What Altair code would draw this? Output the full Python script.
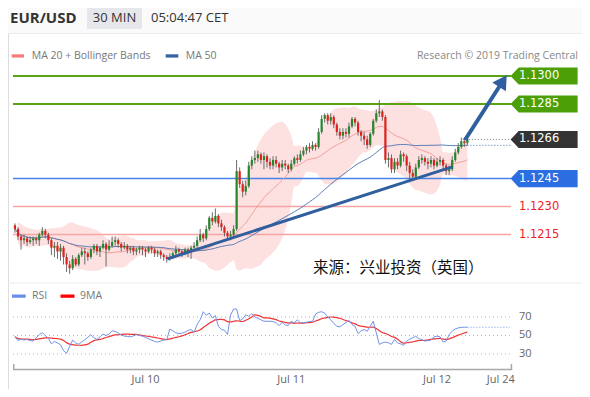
import altair as alt
import pandas as pd

# ---------------- data (pips above 1.1200, 30-min bars) ----------------
close_pips = [18,14,12,13,11,12,13,12,15,17,
              15,12,8,9,6,8,3,-1,-3,2,
              -1,4,6,5,3,7,9,6,8,10,
              7,9,11,12,10,8,9,7,8,6,
              7,8,7,6,8,7,5,6,4,3,
              2,3,5,7,6,5,7,6,8,9,
              12,15,13,18,24,22,25,21,19,16,
              14,15,18,49,42,38,41,52,55,56,
              58,55,57,54,52,55,53,51,53,52,
              50,53,56,55,58,60,62,61,63,62,
              70,77,79,76,78,74,70,68,70,69,
              73,77,75,70,68,66,63,69,76,80,
              81,78,55,56,50,54,52,58,57,52,
              48,46,51,55,56,54,53,55,52,54,
              55,52,49,50,55,59,62,65,64,66]
high_pips = [21,19,15,15,14,14,14,14,16,19,
             18,16,13,11,11,10,9,5,1,4,
             3,5,8,8,6,8,10,10,9,12,
             11,12,14,14,13,11,11,10,9,9,
             8,9,9,8,9,9,8,7,7,5,
             4,5,6,9,8,7,8,8,9,11,
             14,18,16,20,25,27,29,26,23,20,
             17,17,20,55,51,44,44,54,57,60,
             60,59,59,58,56,57,57,54,55,55,
             53,55,57,58,60,62,63,64,65,64,
             72,79,80,80,80,79,75,72,72,72,
             75,78,78,76,71,70,68,70,77,82,
             87,82,79,59,58,56,56,60,59,58,
             54,50,53,57,58,57,56,57,56,56,
             57,56,53,52,57,61,64,67,67,67]
low_pips = [16,12,7,10,9,10,9,10,9,14,
            13,10,4,3,2,1,-1,-5,-6,-4,
            -2,-2,3,-1,1,2,5,4,3,7,
            -2,6,8,9,8,6,7,5,5,4,
            4,5,4,3,5,5,3,3,2,1,
            0,1,2,4,4,3,4,3,2,6,
            8,11,11,12,17,20,21,19,17,14,
            12,12,14,17,40,35,36,40,50,53,
            54,53,50,51,50,50,51,48,49,50,
            48,49,52,53,54,57,58,59,60,60,
            61,69,75,74,74,72,68,66,66,67,
            67,72,73,68,65,63,61,62,68,75,
            78,76,53,51,48,48,50,51,54,49,
            44,44,45,50,53,52,50,51,50,51,
            52,50,47,47,49,54,58,61,62,63]
first_open_pips = 20

rsi_values = [48.6,44.5,46,45.2,45.7,44.5,44,47.5,51,52.9,
              50,47,41,43.5,42,40,33.5,30.7,38,45,
              42,40.5,43,45.5,48,51,47.5,45.7,48.5,51.5,
              50,51.5,55,54.5,52.9,50.5,49.3,49,48.6,49.5,
              51,50,49.3,48,46.4,45,43.5,42.9,44,45,
              45.7,57,55,52.9,52,52.5,53.6,55.5,56.4,53.6,
              62,67,75.7,72,74.3,69,71.4,60,56.4,55.7,
              51,72,78.6,78.6,66,67.9,72.5,70.7,73.6,70,
              68.5,67,65.4,65.4,65.4,65,63.6,60.7,64.3,61.5,
              60.7,65.4,63.6,67,63.6,64,64.3,65,65.4,73.2,
              75,75.7,74.3,70,67,63,60,59.3,61.8,64,
              66.4,61.8,60,52,55,56.4,54.6,60,65.4,52.9,
              40.4,42,42.9,42,40.4,45.7,42,41,39.3,44,
              46,47.5,49.3,46.5,45.7,44,44.5,45,48.5,49.3,
              48.6,42.9,44,51,54.6,57,58.2,58.8,58.9,58.9]

level_values = [1.1300, 1.1285, 1.1266, 1.1245, 1.1230, 1.1215]
level_labels = ["1.1300", "1.1285", "1.1266", "1.1245", "1.1230", "1.1215"]
box_colors = ["#4c9f06", "#4c9f06", "#333333", "#2a6ee2"]
trend_i = [50.2, 144.0]
trend_p = [1.12020, 1.12513]
arrow_i = [148.2, 160.7]
arrow_p = [1.12657, 1.12973]
rsi_levels = [70, 50, 30]
tick_idx = [43, 91, 139, 160]
tick_text = ["Jul 10", "Jul 11", "Jul 12", "Jul 24"]

# ---------------- tables ----------------
n = len(close_pips)
open_pips = [first_open_pips] + close_pips[:-1]
to_p = lambda v: round(1.12 + v / 10000.0, 5)
df = pd.DataFrame({
    "i": list(range(n)),
    "open": [to_p(v) for v in open_pips],
    "close": [to_p(v) for v in close_pips],
    "high": [to_p(v) for v in high_pips],
    "low": [to_p(v) for v in low_pips],
})
df["dir"] = ["up" if c >= o else "down" for o, c in zip(df["open"], df["close"])]
rdf = pd.DataFrame({"i": list(range(n)), "rsi": rsi_values})
one = pd.DataFrame({"a": [0]})

W = 574
H = 381
R0 = 280          # top of RSI panel (px)
RB = 362          # RSI axis line (px)
XL, XR = -0.647, 185.1
LINE_END = 163.4
LABEL_X = 166.0
BOX_X = 174.27

xs = alt.Scale(domain=[XL, XR], nice=False, zero=False)
ys = alt.Scale(domain=[1.11323, 1.13364], nice=False, zero=False)
rs = alt.Scale(domain=[-7.84, 404.05], nice=False, zero=False)


def X(f):
    return alt.X(f, type="quantitative", scale=xs, axis=None)


def Y(f):
    return alt.Y(f, type="quantitative", scale=ys, axis=None)


def YB(f):
    return alt.Y(f, type="quantitative", scale=rs, axis=None)


def txt(s, x, y, size=10.5, color="#777", weight="normal", align="left", font="Open Sans"):
    return alt.Chart(one).mark_text(text=s, fontSize=size, color=color, fontWeight=weight,
                                    align=align, baseline="middle", font=font).encode(
        x=alt.value(x), y=alt.value(y))


def rect(x1, x2, y1, y2, color):
    return alt.Chart(one).mark_rect(color=color).encode(
        x=alt.value(x1), x2=alt.value(x2), y=alt.value(y1), y2=alt.value(y2))


def hline(y, color="#ececec"):
    return alt.Chart(one).mark_rule(color=color).encode(x=alt.value(0), x2=alt.value(W), y=alt.value(y))


# ---------------- main panel ----------------
ind = (alt.Chart(df)
       .transform_window(ma20="mean(close)", sd20="stdev(close)", frame=[-19, 0], sort=[alt.SortField("i")])
       .transform_window(ma50="mean(close)", frame=[-49, 0], sort=[alt.SortField("i")])
       .transform_calculate(bu="datum.ma20 + 2*datum.sd20", bl="datum.ma20 - 2*datum.sd20"))

band = ind.mark_area(color="#fde1e1", interpolate="monotone").encode(x=X("i"), y=Y("bu"), y2="bl:Q")
ma20 = ind.mark_line(color="#f3a09a", strokeWidth=1, interpolate="monotone").encode(x=X("i"), y=Y("ma20"))
ma50 = ind.mark_line(color="#4a72b0", strokeWidth=0.9, interpolate="monotone").encode(x=X("i"), y=Y("ma50"))

lv = pd.DataFrame({"p": level_values, "lab": level_labels, "x1": [XL] * 6, "x2": [LINE_END] * 6,
                   "lx": [LABEL_X] * 6, "bx": [BOX_X] * 6})

green_lines = alt.Chart(lv).transform_filter("datum.p >= 1.1285").mark_rule(
    color="#5aa312", strokeWidth=2).encode(x=X("x1"), x2="x2:Q", y=Y("p"))
blue_line = alt.Chart(lv).transform_filter("datum.p == 1.1245").mark_rule(
    color="#4a84e6", strokeWidth=1.5).encode(x=X("x1"), x2="x2:Q", y=Y("p"))
pink_lines = alt.Chart(lv).transform_filter("datum.p <= 1.1230").mark_rule(
    color="#f7a4a4", strokeWidth=1.5).encode(x=X("x1"), x2="x2:Q", y=Y("p"))
cur = pd.DataFrame({"x1": [df["i"].iloc[-1] - 1.5], "x2": [LINE_END], "p": [level_values[2]]})
cur_line = alt.Chart(cur).mark_rule(color="#777", strokeWidth=1, strokeDash=[1, 2]).encode(
    x=X("x1"), x2="x2:Q", y=Y("p"))
ma50_ext = (ind.transform_filter(f"datum.i == {n - 1}")
            .transform_calculate(x2=str(LINE_END))
            .mark_rule(color="#4a72b0", strokeWidth=1, strokeDash=[1, 2])
            .encode(x=X("i"), x2="x2:Q", y=Y("ma50")))

wick = alt.Chart(df).mark_rule(color="#6b6b6b", strokeWidth=1).encode(x=X("i"), y=Y("low"), y2="high:Q")
body_up = alt.Chart(df).transform_filter("datum.dir == 'up'").mark_bar(size=2.2, color="#23862a").encode(
    x=X("i"), y=Y("open"), y2="close:Q")
body_dn = alt.Chart(df).transform_filter("datum.dir == 'down'").mark_bar(size=2.2, color="#e0201c").encode(
    x=X("i"), y=Y("open"), y2="close:Q")

trend = alt.Chart(pd.DataFrame({"i": trend_i, "p": trend_p})).mark_line(
    color="#2f5f9e", strokeWidth=3).encode(x=X("i"), y=Y("p"))
arrow = alt.Chart(pd.DataFrame({"i": arrow_i, "p": arrow_p})).mark_line(
    color="#2f5f9e", strokeWidth=4).encode(x=X("i"), y=Y("p"))
head = alt.Chart(pd.DataFrame({"i": [arrow_i[1]], "p": [arrow_p[1]]})).mark_point(
    shape="triangle-up", filled=True, size=260, angle=33, color="#2f5f9e", opacity=1).encode(
    x=X("i"), y=Y("p"))

box_shape = "M -1 0 L -0.76 -0.254 L 1 -0.254 L 1 0.254 L -0.76 0.254 Z"
boxes = [
    alt.Chart(lv).transform_filter(f"datum.lab == '{lab}'").mark_point(
        shape=box_shape, filled=True, size=67 * 67, opacity=1, color=col).encode(x=X("bx"), y=Y("p"))
    for lab, col in zip(level_labels[:4], box_colors)
]
box_text = alt.Chart(lv).transform_filter("datum.p >= 1.1245").mark_text(
    align="left", baseline="middle", color="white", fontSize=11.5, font="DejaVu Sans").encode(
    x=X("lx"), y=Y("p"), text="lab:N")
red_text = alt.Chart(lv).transform_filter("datum.p <= 1.1230").mark_text(
    align="left", baseline="middle", color="#f01e1e", fontSize=11.5, font="DejaVu Sans").encode(
    x=X("lx"), y=Y("p"), text="lab:N")

# ---------------- RSI panel ----------------
rl = pd.DataFrame({"v": rsi_levels, "x1": [XL] * 3, "x2": [163.0] * 3, "lx": [LABEL_X] * 3,
                   "t": [str(v) for v in rsi_levels]})
grid = alt.Chart(rl).mark_rule(color="#b5b5b5", strokeDash=[1, 3], strokeWidth=1).encode(
    x=X("x1"), x2="x2:Q", y=YB("v"))
grid_text = alt.Chart(rl).mark_text(align="left", baseline="middle", color="#666", fontSize=11,
                                    font="Open Sans").encode(x=X("lx"), y=YB("v"), text="t:N")
rsi_line = alt.Chart(rdf).mark_line(color="#7393e8", strokeWidth=1).encode(x=X("i"), y=YB("rsi"))
ma9 = (alt.Chart(rdf).transform_window(ma9="mean(rsi)", frame=[-8, 0], sort=[alt.SortField("i")])
       .mark_line(color="#f03333", strokeWidth=1.2, interpolate="monotone").encode(x=X("i"), y=YB("ma9")))
rsi_ext = (alt.Chart(rdf).transform_filter(f"datum.i == {n - 1}")
           .transform_calculate(x2="163.0")
           .mark_rule(color="#7393e8", strokeWidth=1.2, strokeDash=[1, 2])
           .encode(x=X("i"), x2="x2:Q", y=YB("rsi")))
axis_line = alt.Chart(pd.DataFrame({"x1": [XL], "x2": [163.75]})).mark_rule(
    color="#a8a8a8", strokeWidth=1.5).encode(x=X("x1"), x2="x2:Q", y=alt.value(RB - 0.5))
end_ticks = alt.Chart(pd.DataFrame({"x1": [XL + 0.25, 163.5]})).mark_rule(
    color="#a8a8a8", strokeWidth=1.5).encode(x=X("x1"), y=alt.value(RB - 6), y2=alt.value(RB))
tick_labels = alt.Chart(pd.DataFrame({"i": tick_idx, "t": tick_text})).mark_text(
    align="center", baseline="middle", color="#666", fontSize=11, font="Open Sans").encode(
    x=X("i"), y=alt.value(RB + 9.5), text="t:N")

chart = alt.layer(
    rect(0, W, 0, 25, "#fafafa"),
    hline(25.5),
    hline(R0 - 5),
    rect(79, 134, 0, 21, "#e6e7ea"),
    txt("EUR/USD", 2, 10, size=15, color="#333", weight="bold"),
    txt("30 MIN", 106.5, 10, size=13, color="#333", align="center"),
    txt("05:04:47 CET", 143, 10, size=13, color="#333"),
    rect(3.7, 16, 46.3, 49.6, "#f47c7c"),
    txt("MA 20 + Bollinger Bands", 23.7, 48, size=10.5, color="#777"),
    rect(157.7, 170.3, 46.3, 49.6, "#3563a6"),
    txt("MA 50", 177.7, 48, size=10.5, color="#777"),
    txt("Research \u00a9 2019 Trading Central", 570, 48, size=10.5, color="#888", align="right"),
    band, pink_lines, blue_line, green_lines, ma20, ma50, cur_line, ma50_ext,
    wick, body_up, body_dn, trend, arrow, head, *boxes, box_text, red_text,
    txt("来源：兴业投资（英国）", 305, 260, size=15.5, color="#111", font="Noto Sans CJK SC"),
    rect(4, 17.7, R0 + 6.5, R0 + 9.8, "#6a8ee8"),
    txt("RSI", 24, R0 + 8, size=10.5, color="#777"),
    rect(52.5, 66.5, R0 + 6.5, R0 + 9.8, "#ff0000"),
    txt("9MA", 72, R0 + 8, size=10.5, color="#777"),
    grid, grid_text, rsi_ext, ma9, rsi_line, axis_line, end_ticks, tick_labels,
).resolve_scale(y="independent").properties(
    width=W, height=H, padding={"left": 0, "top": 0, "right": 0, "bottom": 0},
    autosize=alt.AutoSizeParams(type="none"),
).configure_view(stroke=None).configure(background="white")

chart.save("out.html", embed_options={"renderer": "svg", "actions": False})
